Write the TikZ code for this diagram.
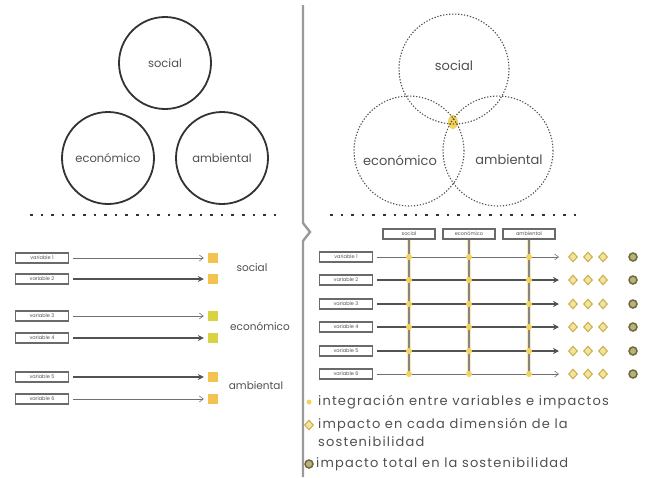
\documentclass[tikz,border=0pt]{standalone}
\usepackage{fontspec}
\setmainfont{Poppins}
\newfontfamily\legfont{Poppins}[LetterSpace=9]
\usetikzlibrary{arrows.meta,shapes.geometric}
\definecolor{ink}{HTML}{333333}
\definecolor{txtgray}{HTML}{505050}
\definecolor{boxgray}{HTML}{6A6A6A}
\definecolor{divgray}{HTML}{9A9A9A}
\definecolor{ysq}{HTML}{F2C44F}
\definecolor{ygreen}{HTML}{D9D344}
\definecolor{ydot}{HTML}{F3D35B}
\definecolor{dmfill}{HTML}{F4E3A0}
\definecolor{dmdraw}{HTML}{C8B04A}
\definecolor{totdraw}{HTML}{6E6A3A}
\definecolor{totfill}{HTML}{B9B27A}
\begin{document}
\begin{tikzpicture}[x=1pt,y=-1pt,
  lbl/.style={font=\fontsize{11.5}{13}\selectfont, text=txtgray, inner sep=0pt},
  lblB/.style={font=\fontsize{13}{15}\selectfont, text=txtgray, inner sep=0pt},
  sidelbl/.style={font=\fontsize{10.5}{12}\selectfont, text=txtgray, inner sep=0pt},
  ringA/.style={circle, draw=ink, line width=1.8pt, minimum size=92pt, inner sep=0pt},
  ringB/.style={circle, draw=ink!85, line width=1.1pt, dash pattern=on 1.3pt off 1.7pt, minimum size=110pt, inner sep=0pt},
  varbox/.style={draw=boxgray, line width=1.2pt, minimum width=53pt, minimum height=10pt, inner sep=0pt, font=\fontsize{5}{6}\selectfont, text=txtgray},
  hdrbox/.style={draw=boxgray, line width=1.1pt, minimum width=52pt, minimum height=10pt, inner sep=0pt, font=\fontsize{5}{6}\selectfont, text=txtgray},
  sq/.style={rectangle, minimum width=10pt, minimum height=10pt, inner sep=0pt},
  thinarr/.style={draw=ink!70, line width=0.6pt, -{Straight Barb[length=4pt,width=6pt]}, shorten <=4pt, shorten >=4pt},
  thickarr/.style={draw=ink!85, line width=1.3pt, -{Stealth[length=6pt,width=6pt]}, shorten <=4pt, shorten >=4pt},
  vline/.style={draw=ink!60, line width=1.3pt},
  vglow/.style={draw=ydot!70, line width=4pt, opacity=0.6},
  ydotn/.style={circle, fill=ydot, minimum size=6pt, inner sep=0pt},
  dmn/.style={diamond, draw=dmdraw, fill=dmfill, line width=1pt, minimum width=9pt, minimum height=10pt, inner sep=0pt},
  totn/.style={circle, draw=totdraw, fill=totfill, line width=1.5pt, minimum size=8pt, inner sep=0pt},
  dotrow/.style={draw=ink, line width=2.6pt, dash pattern=on 2.6pt off 8pt},
  legtxt/.style={anchor=west, font=\legfont\fontsize{13}{15}\selectfont, text=txtgray, inner sep=0pt},
  divider/.style={draw=divgray, line width=2.4pt}
]
\useasboundingbox (0,0) rectangle (659,477);

% divider
\coordinate (dv1) at (303,5);
\coordinate (dv2) at (303,223);
\coordinate (dv3) at (310,232);
\coordinate (dv4) at (303,241);
\coordinate (dv5) at (303,477);
\draw[divider, line join=miter] (dv1) -- (dv2) -- (dv3) -- (dv4) -- (dv5);

% left circles
\node[ringA, lbl] (lsoc) at (165,63) {social};
\node[ringA, lbl] (leco) at (108,158) {económico};
\node[ringA, lbl] (lamb) at (222,158) {ambiental};

% right venn
\fill[ydot] (453,122) ellipse (5pt and 7pt);
\node[ringB] (rsoc) at (454,69) {};
\node[ringB] (reco) at (409,151) {};
\node[ringB] (ramb) at (498,151) {};
\node[lblB] (rsocl) at (454,66) {social};
\node[lblB] (recol) at (400,160) {económico};
\node[lblB] (rambl) at (509,160) {ambiental};

% dotted rows
\coordinate (dl1) at (30,215);
\coordinate (dl2) at (283,215);
\draw[dotrow] (dl1) -- (dl2);
\coordinate (dr1) at (330,215);
\coordinate (dr2) at (580,215);
\draw[dotrow] (dr1) -- (dr2);

% left rows
\node[varbox] (lv1) at (42,258) {variable 1};
\node[varbox] (lv2) at (42,279) {variable 2};
\node[varbox] (lv3) at (42,316) {variable 3};
\node[varbox] (lv4) at (42,338) {variable 4};
\node[varbox] (lv5) at (42,377) {variable 5};
\node[varbox] (lv6) at (42,399) {variable 6};
\node[sq, fill=ysq] (lq1) at (213,258) {};
\node[sq, fill=ysq] (lq2) at (213,279) {};
\node[sq, fill=ygreen] (lq3) at (213,316) {};
\node[sq, fill=ygreen] (lq4) at (213,338) {};
\node[sq, fill=ysq] (lq5) at (213,377) {};
\node[sq, fill=ysq] (lq6) at (213,399) {};
\draw[thinarr] (lv1) -- (lq1);
\draw[thickarr] (lv2) -- (lq2);
\draw[thinarr] (lv3) -- (lq3);
\draw[thickarr] (lv4) -- (lq4);
\draw[thickarr] (lv5) -- (lq5);
\draw[thinarr] (lv6) -- (lq6);
\node[sidelbl] (lls) at (252,268) {social};
\node[sidelbl] (lle) at (260,326) {económico};
\node[sidelbl] (lla) at (256,386) {ambiental};

% right headers
\node[hdrbox] (hs) at (409,234) {social};
\node[hdrbox] (he) at (469,234) {económico};
\node[hdrbox] (ha) at (529,234) {ambiental};
\coordinate (hsb) at (409,376);
\coordinate (heb) at (469,376);
\coordinate (hab) at (529,376);

% right rows
\foreach \i/\y/\st in {1/257/thinarr,2/280/thickarr,3/304/thickarr,4/327/thickarr,5/351/thickarr,6/374/thinarr}{
  \node[varbox] (rv\i) at (346,\y) {variable \i};
  \coordinate (re\i) at (563,\y);
  \draw[\st] (rv\i) -- (re\i);
  \node[dmn] (rd\i a) at (573,\y) {};
  \node[dmn] (rd\i b) at (588,\y) {};
  \node[dmn] (rd\i c) at (603,\y) {};
  \node[totn] (rt\i) at (633,\y) {};
}
\draw[vglow] (hs) -- (hsb);
\draw[vglow] (he) -- (heb);
\draw[vglow] (ha) -- (hab);
\draw[vline] (hs) -- (hsb);
\draw[vline] (he) -- (heb);
\draw[vline] (ha) -- (hab);
\foreach \i/\y in {1/257,2/280,3/304,4/327,5/351,6/374}{
  \node[ydotn] (ds\i) at (409,\y) {};
  \node[ydotn] (de\i) at (469,\y) {};
  \node[ydotn] (da\i) at (529,\y) {};
}

% legend
\node[ydotn, minimum size=5pt] (lg1) at (309,402) {};
\node[legtxt] (lt1) at (318,402) {integración entre variables e impactos};
\node[dmn] (lg2) at (309,425) {};
\node[legtxt] (lt2) at (318,425) {impacto en cada dimensión de la};
\node[legtxt] (lt3) at (318,442) {sostenibilidad};
\node[totn] (lg3) at (309,464) {};
\node[legtxt] (lt4) at (316,464) {impacto total en la sostenibilidad};
\end{tikzpicture}
\end{document}
